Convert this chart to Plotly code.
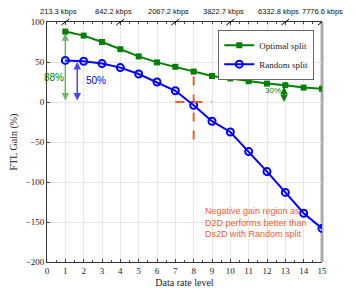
import plotly.graph_objects as go

levels = list(range(1, 16))
optimal = [88, 83, 75, 66, 57, 49.5, 44, 38, 32.5, 29.5, 26, 23, 21, 18, 16.6]
random_split = [52, 51, 48, 43, 35, 25, 14, -4, -24, -37.5, -62, -87, -113, -139, -158]
top_vals = [1, 4, 7, 10, 13, 15]
top_text = ["213.3 kbps", "842.2 kbps", "2067.2 kbps", "3822.7 kbps", "6332.8 kbps", "7776.6 kbps"]

serif = "Liberation Serif"
sans = "Liberation Sans"
orange = "rgb(232,98,44)"
green = "rgb(0,128,0)"
blue = "rgb(0,0,255)"
half_ticks = [i / 2 for i in range(0, 31)]

fig = go.Figure()
fig.add_trace(go.Scatter(x=levels, y=optimal, mode="lines+markers", name="Optimal split",
                         line=dict(color=green, width=2),
                         marker=dict(symbol="square", size=6, color=green)))
fig.add_trace(go.Scatter(x=levels, y=random_split, mode="lines+markers", name="Random split",
                         line=dict(color=blue, width=2),
                         marker=dict(symbol="circle-open", size=7, color=blue, line=dict(width=2))))
# invisible trace for top axis
fig.add_trace(go.Scatter(x=[0, 15], y=[None, None], xaxis="x2", showlegend=False, hoverinfo="skip"))

# right border (gray)
fig.add_shape(type="line", xref="paper", yref="paper", x0=1, x1=1, y0=0, y1=1,
              line=dict(color="#aaaaaa", width=3), layer="below")

# orange dashed cross
fig.add_shape(type="line", x0=8, x1=8, y0=32, y1=-55, line=dict(color=orange, width=2, dash="dash"))
fig.add_shape(type="line", x0=7, x1=9, y0=0, y1=0, line=dict(color=orange, width=2, dash="dash"))

# break marks on top axis + top labels
for i, (v, t) in enumerate(zip(top_vals, top_text)):
    fig.add_shape(type="line", xref="x", yref="paper", xsizemode="pixel", ysizemode="pixel",
                  xanchor=v, yanchor=1, x0=-4, x1=4, y0=-3, y1=3,
                  line=dict(color="black", width=1))
    fig.add_annotation(x=v, y=1, xref="x", yref="paper", text=t, showarrow=False,
                       yanchor="bottom", yshift=4, xshift=(0 if i == len(top_vals) - 1 else -7),
                       font=dict(family=sans, size=7.5, color="#111"))

# arrows
arrow_specs = [
    (1, 0, 1, 86, "rgba(0,128,0,0.55)"),
    (1.65, 0, 1.65, 50, "rgb(70,70,255)"),
    (12.93, -2, 12.93, 19, "rgb(0,128,0)"),
]
for x0, y0, x1, y1, c in arrow_specs:
    fig.add_annotation(x=x1, y=y1, ax=x0, ay=y0, xref="x", yref="y", axref="x", ayref="y",
                       text="", showarrow=True, arrowhead=2, arrowside="end+start",
                       arrowsize=1, arrowwidth=1.5, arrowcolor=c, standoff=0, startstandoff=0)

fig.add_annotation(x=1.02, y=31, text="88%", showarrow=False, xanchor="right",
                   font=dict(family=sans, size=10, color=green))
fig.add_annotation(x=2.03, y=27, text="50%", showarrow=False, xanchor="left",
                   font=dict(family=sans, size=10, color=blue))
fig.add_annotation(x=12.85, y=14, text="30%", showarrow=False, xanchor="right",
                   font=dict(family=sans, size=8, color=green))
fig.add_annotation(x=8.5, y=-127, text="Negative gain region as<br>D2D performs better than<br>Ds2D with Random split",
                   showarrow=False, xanchor="left", yanchor="top", align="left",
                   font=dict(family=sans, size=9, color=orange))

fig.update_layout(
    width=348, height=287,
    margin=dict(l=39, r=34, t=14, b=33),
    paper_bgcolor="white", plot_bgcolor="white",
    font=dict(family=serif, size=9, color="#222"),
    legend=dict(x=0.972, y=0.968, xanchor="right", yanchor="top",
                bordercolor="#666", borderwidth=1, bgcolor="white",
                font=dict(family=serif, size=9, color="#222"),
                itemwidth=30, tracegroupgap=0),
    xaxis=dict(range=[0, 15], tickvals=list(range(0, 16)), ticks="inside", ticklen=3,
               minor=dict(tickvals=half_ticks, ticks="inside", ticklen=2, showgrid=False),
               showgrid=True, gridcolor="#e6e6e6", showline=True, linecolor="#333", linewidth=1,
               zeroline=False, automargin=False,
               title=dict(text="Data rate level", font=dict(family=serif, size=10), standoff=4),
               tickfont=dict(family=serif, size=9)),
    xaxis2=dict(range=[0, 15], overlaying="x", side="top", tickvals=top_vals, showticklabels=False,
                ticks="inside", ticklen=3, automargin=False,
                minor=dict(tickvals=half_ticks, ticks="inside", ticklen=2),
                showgrid=False, showline=True, linecolor="#333", linewidth=1, zeroline=False),
    yaxis=dict(range=[-200, 100], tickvals=[-200, -150, -100, -50, 0, 50, 100], ticks="inside", ticklen=3,
               showgrid=True, gridcolor="#e6e6e6", showline=True, linecolor="#333", linewidth=1,
               mirror=False, zeroline=False, automargin=False,
               title=dict(text="FTL Gain (%)", font=dict(family=serif, size=10), standoff=6),
               tickfont=dict(family=serif, size=9)),
)

fig.write_html("out.html")
